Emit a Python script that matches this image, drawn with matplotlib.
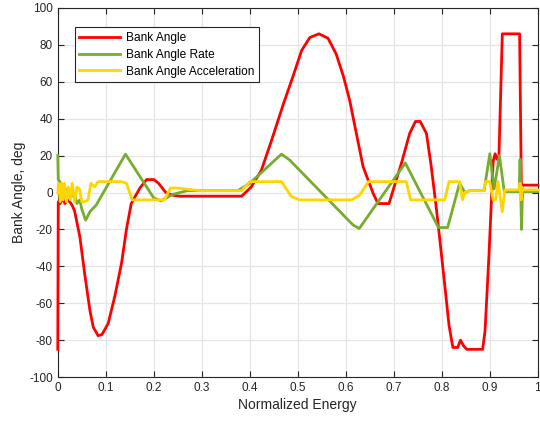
import numpy as np
import matplotlib.pyplot as plt

# bank angle profile vs normalized energy
bank_e = [0.000, 0.001, 0.005, 0.010, 0.015, 0.020, 0.025, 0.030, 0.035, 0.046, 0.056,
          0.067, 0.074, 0.084, 0.092, 0.105, 0.119, 0.133, 0.143, 0.153, 0.171, 0.185,
          0.200, 0.210, 0.225, 0.240, 0.254, 0.383, 0.403, 0.424, 0.445, 0.470, 0.490,
          0.508, 0.525, 0.544, 0.563, 0.580, 0.595, 0.608, 0.622, 0.636, 0.657, 0.667,
          0.690, 0.705, 0.716, 0.733, 0.745, 0.755, 0.768, 0.778, 0.789, 0.796, 0.806,
          0.815, 0.823, 0.833, 0.839, 0.845, 0.852, 0.885, 0.890, 0.898, 0.907, 0.911,
          0.915, 0.919, 0.926, 0.962, 0.966, 0.968, 1.000]
bank_deg = [-85, -5, -6, -3, -6, -4, -5, -7, -10, -24, -44,
            -64, -73, -77.6, -77, -71, -56, -38, -20, -6, 2.4, 7,
            7, 5, 0, -1.5, -2, -2, 3, 12, 28, 48, 63,
            77, 84, 86, 83.6, 75, 63, 50, 32, 14, -0.5, -6,
            -6, 6.8, 16, 32, 38.5, 38.5, 32, 14, -9.5, -26, -50,
            -72, -84, -84, -80, -83, -85, -85, -75, -35, 17, 21,
            18, 20, 86, 86, -5, 4, 4]

rate_e = [0.000, 0.001, 0.012, 0.019, 0.029, 0.035, 0.040, 0.046, 0.050, 0.058, 0.067,
          0.080, 0.141, 0.200, 0.215, 0.240, 0.270, 0.375, 0.400, 0.466, 0.483, 0.615,
          0.628, 0.724, 0.793, 0.812, 0.837, 0.848, 0.858, 0.888, 0.900, 0.909, 0.920,
          0.930, 0.961, 0.963, 0.966, 0.968, 1.000]
rate_deg = [20, 7, 3, 1.4, -2, -1, -6, -4, -9, -15, -10.4,
            -6.8, 20.8, -3, -4.5, -1, 1, 1, 5, 20.8, 17.6, -17.6,
            -19.5, 16, -19, -19, 5, 0, 1, 1, 21, 2, 20,
            0.5, 0.5, 18, -20, 0.5, 0.5]

acc_e = [0.000, 0.002, 0.005, 0.008, 0.011, 0.014, 0.018, 0.022, 0.026, 0.030, 0.035,
         0.040, 0.045, 0.050, 0.056, 0.063, 0.069, 0.077, 0.084, 0.133, 0.143, 0.155,
         0.222, 0.235, 0.254, 0.296, 0.383, 0.400, 0.466, 0.487, 0.504, 0.612, 0.629,
         0.647, 0.726, 0.735, 0.806, 0.815, 0.837, 0.843, 0.848, 0.858, 0.887, 0.891,
         0.900, 0.907, 0.912, 0.917, 0.926, 0.931, 0.961, 0.963, 0.965, 0.967, 0.970,
         1.000]
acc_deg = [0, 5, -5, 5, -4, 5, -5, 3, -4, 5, -5,
           3, 2, -5, -5, -4, 5, 3, 5.9, 5.9, 5, -4,
           -4, 2.5, 2.3, 1, 1, 5.9, 5.9, -2.3, -4, -4, -1.4,
           5.9, 5.9, -4, -4, 5.9, 5.9, -4, 0, 1, 1, 5.9,
           5.9, -4, -4, 5.9, -10.4, 1.4, 1.4, 5, -4, 3, 1.4,
           1.4]

xticks = np.arange(0, 1.01, 0.1)
xtick_labels = ['0', '0.1', '0.2', '0.3', '0.4', '0.5', '0.6', '0.7', '0.8', '0.9', '1']
yticks = np.arange(-100, 101, 20)

plt.rcParams['font.family'] = ['Liberation Sans', 'DejaVu Sans']
plt.rcParams['axes.unicode_minus'] = False

fig = plt.figure(figsize=(5.4, 4.21), dpi=100)
ax = fig.add_axes([0.107, 0.1045, 0.889, 0.8765])

lw = 2.0
ax.plot(bank_e, bank_deg, color='#ff0000', lw=lw, label='Bank Angle',
        clip_on=False, zorder=3)
ax.plot(rate_e, rate_deg, color='#77ac30', lw=lw, label='Bank Angle Rate',
        clip_on=False, zorder=3)
ax.plot(acc_e, acc_deg, color='#ffd500', lw=lw, label='Bank Angle Acceleration',
        clip_on=False, zorder=3)

ax.set_xlim(0, 1)
ax.set_ylim(-100, 100)
ax.set_xticks(xticks)
ax.set_xticklabels(xtick_labels)
ax.set_yticks(yticks)
ax.tick_params(direction='in', top=True, right=True, labelsize=8.5,
               colors='#262626', length=4, width=0.8)
ax.grid(True, color='#e6e6e6', lw=0.9)
ax.set_axisbelow(True)
for s in ax.spines.values():
    s.set_color('#262626')
    s.set_linewidth(0.8)
    s.set_zorder(2)

ax.set_xlabel('Normalized Energy', fontsize=10, color='#262626', labelpad=3)
ax.set_ylabel('Bank Angle, deg', fontsize=10, color='#262626', labelpad=2)

leg = ax.legend(loc='upper left', bbox_to_anchor=(0.035, 0.948), fontsize=8.6,
                fancybox=False, framealpha=1, edgecolor='#262626',
                handlelength=3.4, handletextpad=0.5, borderpad=0.4,
                labelspacing=0.4, borderaxespad=0)
leg.get_frame().set_linewidth(0.8)
leg.set_zorder(5)

fig.savefig('out.png', dpi=100)
